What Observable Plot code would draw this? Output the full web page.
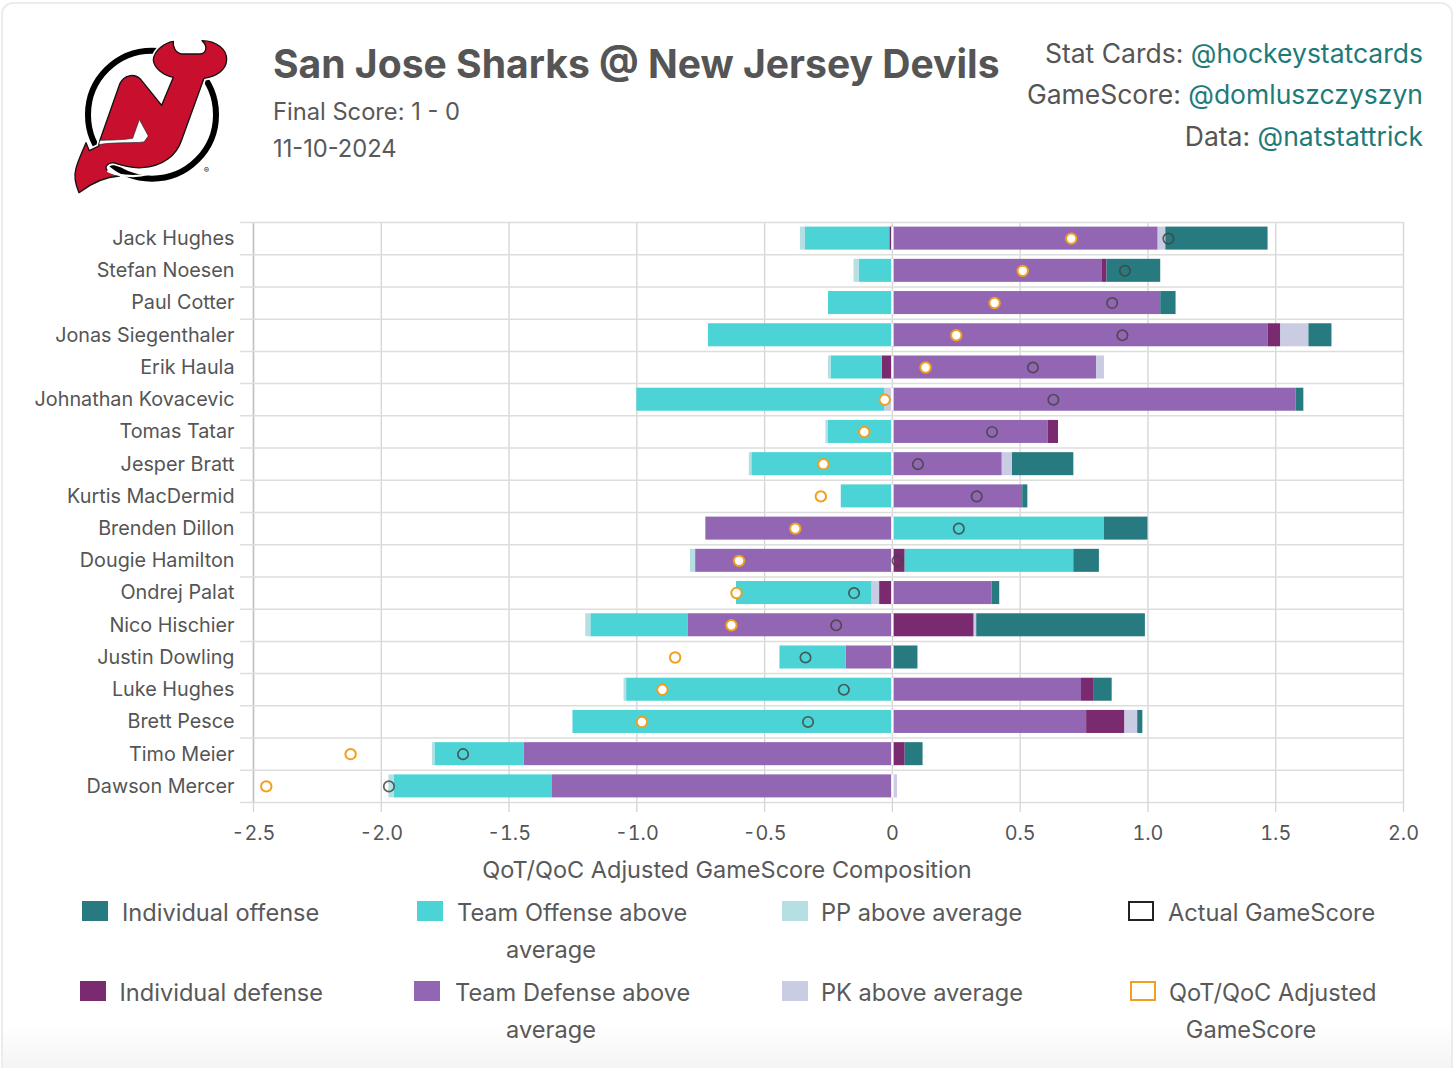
<!DOCTYPE html>
<html>
<head>
<meta charset="utf-8">
<script src="https://cdn.jsdelivr.net/npm/d3@7"></script>
<script src="https://cdn.jsdelivr.net/npm/@observablehq/plot@0.6"></script>
<style>
html,body{margin:0;padding:0;background:#fff;}
body{width:1456px;height:1068px;position:relative;overflow:hidden;font-family:Inter,"Noto Sans",sans-serif;color:#555;}
#card{position:absolute;left:1px;top:2px;width:1452px;height:1080px;border:2px solid #ececec;border-radius:12px;background:linear-gradient(#fff 0,#fff 1020px,#f4f4f4 1066px);box-sizing:border-box;}
.abs{position:absolute;white-space:nowrap;}
h1{margin:0;font-size:39.1px;font-weight:700;line-height:48px;left:273px;top:40px;color:#555;}
.sub{font-size:23.7px;left:273px;line-height:30px;color:#595959;}
.credit{font-size:26.5px;right:33px;line-height:34px;color:#555;}
.credit span{color:#1e7a78;}
.sw{position:absolute;width:26px;height:20px;box-sizing:border-box;}
.lg{position:absolute;font-size:23.6px;line-height:37px;color:#595959;}
#chart{position:absolute;left:0;top:200px;}
#logo{position:absolute;left:0;top:0;}
</style>
</head>
<body>
<div id="card"></div>
<svg id="logo" width="500" height="260" viewBox="0 0 1500 780">
  <circle cx="456" cy="344" r="192" fill="#fff" stroke="#000" stroke-width="18"/>
  <path d="M237 578 C225 550 222 525 228 505 C235 480 245 460 258 428 L268 452 L296 438 L300 420 L360 250 C372 226 402 218 422 238 L485 316 L520 232 C490 225 462 205 460 180 C462 150 495 128 520 124 C518 140 525 158 545 162 L600 162 C618 160 626 140 606 122 C650 122 682 150 680 180 C678 210 650 230 612 235 L545 420 C530 465 490 500 425 503 C390 505 360 495 340 488 C322 490 312 500 322 512 C335 522 350 526 358 528 C320 530 280 545 237 578 Z" fill="#fff" stroke="#fff" stroke-width="14" stroke-linejoin="round"/>
  <path d="M237 578 C225 550 222 525 228 505 C235 480 245 460 258 428 L268 452 L296 438 L300 420 L360 250 C372 226 402 218 422 238 L485 316 L520 232 C490 225 462 205 460 180 C462 150 495 128 520 124 C518 140 525 158 545 162 L600 162 C618 160 626 140 606 122 C650 122 682 150 680 180 C678 210 650 230 612 235 L545 420 C530 465 490 500 425 503 C390 505 360 495 340 488 C322 490 312 500 322 512 C335 522 350 526 358 528 C320 530 280 545 237 578 Z" fill="#c8102e" stroke="#111" stroke-width="4" stroke-linejoin="round"/>
  <path d="M296 434 C340 426 395 430 432 426 L445 408 L418 358 L398 415 C370 420 330 420 300 421 Z" fill="#fff" stroke="#222" stroke-width="2"/>
  <path d="M322 512 C345 525 400 535 445 522" fill="none" stroke="#fff" stroke-width="7"/>
  <text x="619" y="518" font-size="24" text-anchor="middle" fill="#222">®</text>
</svg>
<h1 class="abs">San Jose Sharks @ New Jersey Devils</h1>
<div class="abs sub" style="top:97px">Final Score: 1 - 0</div>
<div class="abs sub" style="top:134px">11-10-2024</div>
<div class="abs credit" style="top:36px">Stat Cards: <span>@hockeystatcards</span></div>
<div class="abs credit" style="top:77px">GameScore: <span>@domluszczyszyn</span></div>
<div class="abs credit" style="top:119px">Data: <span>@natstattrick</span></div>
<div id="chart"></div>
<div id="legend"></div>
<script>
const players = ["Jack Hughes","Stefan Noesen","Paul Cotter","Jonas Siegenthaler","Erik Haula","Johnathan Kovacevic","Tomas Tatar","Jesper Bratt","Kurtis MacDermid","Brenden Dillon","Dougie Hamilton","Ondrej Palat","Nico Hischier","Justin Dowling","Luke Hughes","Brett Pesce","Timo Meier","Dawson Mercer"];
const teamDefense = [1.04,0.82,1.05,1.47,0.80,1.58,0.61,0.43,0.51,-0.73,-0.77,0.39,-0.80,-0.18,0.74,0.76,-1.44,-1.33];
const indDefense  = [-0.01,0.02,0,0.05,-0.04,0,0.04,0,0,0,0.05,-0.05,0.32,0,0.05,0.15,0.05,0];
const pkAbove     = [0.03,0,0,0.11,0.03,-0.03,0,0.04,0,0,0,-0.03,0.01,0,0,0.05,0,0.02];
const teamOffense = [-0.33,-0.13,-0.25,-0.72,-0.20,-0.97,-0.25,-0.55,-0.20,0.83,0.66,-0.53,-0.38,-0.26,-1.04,-1.25,-0.35,-0.62];
const ppAbove     = [-0.02,-0.02,0,0,-0.01,0,-0.01,-0.01,0,0,-0.02,0,-0.02,0,-0.01,0,-0.01,-0.02];
const indOffense  = [0.40,0.21,0.06,0.09,0,0.03,0,0.24,0.02,0.17,0.10,0.03,0.66,0.10,0.07,0.02,0.07,0];
const actual      = [1.08,0.91,0.86,0.90,0.55,0.63,0.39,0.10,0.33,0.26,0.02,-0.15,-0.22,-0.34,-0.19,-0.33,-1.68,-1.97];
const adjusted    = [0.70,0.51,0.40,0.25,0.13,-0.03,-0.11,-0.27,-0.28,-0.38,-0.60,-0.61,-0.63,-0.85,-0.90,-0.98,-2.12,-2.45];

const components = ["Team Defense above average","Individual defense","PK above average","Team Offense above average","PP above average","Individual offense"];
const componentValues = [teamDefense,indDefense,pkAbove,teamOffense,ppAbove,indOffense];
const componentColors = ["#9366b4","#7a2a6e","#c9cce2","#4bd3d6","#b6dfe3","#277a80"];
const xTicks = [-2.5,-2,-1.5,-1,-0.5,0,0.5,1,1.5,2];

const long = components.flatMap((c,i)=>players.map((p,j)=>({player:p,component:c,value:componentValues[i][j]}))).filter(d=>d.value!==0);
const points = players.map((p,j)=>({player:p,actual:actual[j],adjusted:adjusted[j]}));

const plotHeight = 685, plotTop = 22, plotBottom = 83;
const step = (plotHeight-plotTop-plotBottom)/players.length;
const inset = 4.6;

const plot = Plot.plot({
  width:1456, height:plotHeight,
  marginLeft:253, marginRight:53, marginTop:plotTop, marginBottom:plotBottom,
  style:{fontFamily:"Inter, 'Noto Sans', sans-serif",fontSize:"19.8px",color:"#555",background:"transparent"},
  x:{domain:[-2.5,2],label:null},
  y:{domain:players,padding:0,round:false,label:null},
  color:{domain:components,range:componentColors},
  marks:[
    Plot.ruleX(xTicks,{stroke:"#d4d4d4",strokeWidth:1.3}),
    Plot.ruleX(xTicks.slice(0,1),{stroke:"#c2c2c2",strokeWidth:1.6}),
    Plot.ruleY(players,{y:d=>d,x1:-2.55,x2:2,dy:-step/2,stroke:"#ddd",strokeWidth:1.5}),
    Plot.ruleY(players.slice(-1),{y:d=>d,x1:-2.55,x2:2,dy:step/2,stroke:"#ddd",strokeWidth:1.5}),
    Plot.axisX({ticks:xTicks,tickSize:10,tickPadding:13,stroke:"#d4d4d4",strokeWidth:1.3,tickFormat:d=>d===0?"0":d.toFixed(1),label:null,fill:"#555"}),
    Plot.axisY({tickSize:0,tickPadding:19,label:null,fill:"#555"}),
    Plot.barX(long,Plot.stackX({x:"value",y:"player",z:"component",fill:"component",order:components,insetTop:inset,insetBottom:inset})),
    Plot.tickX(players,{x:()=>0,y:d=>d,stroke:"#fff",strokeWidth:2.4,insetTop:inset,insetBottom:inset}),
    Plot.dot(points,{x:"actual",y:"player",r:5.2,fill:"none",stroke:"#444",strokeOpacity:.85,strokeWidth:1.7}),
    Plot.dot(points,{x:"adjusted",y:"player",r:5.2,fill:"#fff",stroke:"#f0a020",strokeWidth:2}),
    Plot.text(["QoT/QoC Adjusted GameScore Composition"],{frameAnchor:"bottom",dx:-101.5,dy:75,fontSize:23.5,fill:"#595959"})
  ]
});
document.getElementById("chart").append(plot);

const legendItems = [
  {label:"Individual offense",lines:null,sw:[82,901],tx:122,ty:894,fill:"#277a80"},
  {label:"Team Offense above",lines:"average",sw:[417,901],tx:457,ty:894,cx:551,fill:"#4bd3d6"},
  {label:"PP above average",lines:null,sw:[782,901],tx:821,ty:894,fill:"#b6dfe3"},
  {label:"Actual GameScore",lines:null,sw:[1128,901],tx:1168,ty:894,fill:"#fff",stroke:"#222"},
  {label:"Individual defense",lines:null,sw:[80,981],tx:119.5,ty:974,fill:"#7a2a6e"},
  {label:"Team Defense above",lines:"average",sw:[414,981],tx:455,ty:974,cx:551,fill:"#9366b4"},
  {label:"PK above average",lines:null,sw:[782,981],tx:821,ty:974,fill:"#c9cce2"},
  {label:"QoT/QoC Adjusted",lines:"GameScore",sw:[1130,981],tx:1169,ty:974,cx:1251,fill:"#fff",stroke:"#f0a020"}
];
const lg = document.getElementById("legend");
for (const it of legendItems) {
  const s = document.createElement("div");
  s.className = "sw";
  s.style.cssText = `left:${it.sw[0]}px;top:${it.sw[1]}px;background:${it.fill};` + (it.stroke?`border:2px solid ${it.stroke};`:"");
  lg.append(s);
  const t = document.createElement("div");
  t.className = "lg abs";
  t.style.left = it.tx+"px"; t.style.top = it.ty+"px";
  t.textContent = it.label;
  lg.append(t);
  if (it.lines) {
    const u = document.createElement("div");
    u.className = "lg abs";
    u.style.left = it.cx+"px"; u.style.top = (it.ty+37)+"px"; u.style.transform = "translateX(-50%)";
    u.textContent = it.lines;
    lg.append(u);
  }
}
</script>
</body>
</html>
